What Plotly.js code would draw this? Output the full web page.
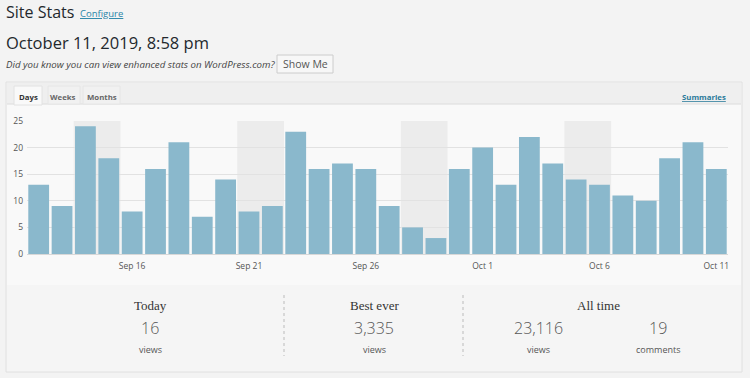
<!DOCTYPE html>
<html>
<head>
<meta charset="utf-8">
<script src="https://cdn.plot.ly/plotly-3.0.1.min.js"></script>
<style>
html,body{margin:0;padding:0;background:#f3f3f3;}
#chart{width:750px;height:378px;}
</style>
</head>
<body>
<div id="chart"></div>
<script>
// ---- data ----
var days = ['Sep 12','Sep 13','Sep 14','Sep 15','Sep 16','Sep 17','Sep 18','Sep 19','Sep 20','Sep 21',
            'Sep 22','Sep 23','Sep 24','Sep 25','Sep 26','Sep 27','Sep 28','Sep 29','Sep 30','Oct 1',
            'Oct 2','Oct 3','Oct 4','Oct 5','Oct 6','Oct 7','Oct 8','Oct 9','Oct 10','Oct 11'];
var isoDates = ['2019-09-12','2019-09-13','2019-09-14','2019-09-15','2019-09-16','2019-09-17','2019-09-18','2019-09-19','2019-09-20','2019-09-21',
                '2019-09-22','2019-09-23','2019-09-24','2019-09-25','2019-09-26','2019-09-27','2019-09-28','2019-09-29','2019-09-30','2019-10-01',
                '2019-10-02','2019-10-03','2019-10-04','2019-10-05','2019-10-06','2019-10-07','2019-10-08','2019-10-09','2019-10-10','2019-10-11'];
var views = [13, 9, 24, 18, 8, 16, 21, 7, 14, 8, 9, 23, 16, 17, 16, 9, 5, 3, 16, 20, 13, 22, 17, 14, 13, 11, 10, 18, 21, 16];
var xTickLabels = ['Sep 16','Sep 21','Sep 26','Oct 1','Oct 6','Oct 11'];
var yTickVals = [0, 5, 10, 15, 20, 25];
var summaryLabels = ['Today', 'Best ever', 'All time'];
var todayViews = '16';
var bestEverViews = '3,335';
var allTimeViews = '23,116';
var allTimeComments = '19';

// ---- helpers (pixel -> paper) ----
var W = 750, H = 378;
function px(x){ return x / W; }
function py(y){ return 1 - y / H; }

var shapes = [];
var ann = [];
function rect(x0, y0, x1, y1, fill, line, lw, layer){
  shapes.push({type:'rect', xref:'paper', yref:'paper', x0:px(x0), x1:px(x1), y0:py(y1), y1:py(y0),
    fillcolor: fill, line:{color: line || 'rgba(0,0,0,0)', width: (lw===undefined?1:lw)}, layer: layer || 'below'});
}
function hline(x0, x1, y, color){
  shapes.push({type:'line', xref:'paper', yref:'paper', x0:px(x0), x1:px(x1), y0:py(y), y1:py(y),
    line:{color:color, width:1}, layer:'below'});
}
function vline(x, y0, y1, color, dash){
  shapes.push({type:'line', xref:'paper', yref:'paper', x0:px(x), x1:px(x), y0:py(y0), y1:py(y1),
    line:{color:color, width:1, dash:dash||'solid'}, layer:'below'});
}
function text(t, x, y, size, color, family, anchor, weight){
  ann.push({text:t, xref:'paper', yref:'paper', x:px(x), y:py(y), showarrow:false,
    xanchor: anchor || 'left', yanchor:'middle',
    font:{size:size, color:color, family:family, weight: weight || 'normal'}});
}

var SANS = '"Open Sans", "Noto Sans", sans-serif';
var SERIF = '"Liberation Serif", "DejaVu Serif", serif';

// ---- page chrome ----
text('Site Stats', 4, 12, 16, '#23282d', SANS);
text('<u>Configure</u>', 78, 13, 9.5, '#2a86a8', SANS);
text('October 11, 2019, 8:58 pm', 4, 42, 16.5, '#23282d', SANS);
text('<i>Did you know you can view enhanced stats on WordPress.com?</i>', 4, 64, 9.7, '#444', SANS);
rect(277, 55, 333, 73, '#f7f7f7', '#cccccc', 1);
text('Show Me', 305, 64, 10.5, '#555', SANS, 'center');

// panel
rect(6, 82, 742, 372, '#f5f5f5', '#e0e0e0', 1);
rect(7, 83, 741, 104, '#efefef', 'rgba(0,0,0,0)', 0);
rect(7, 104, 741, 285, '#f9f9f9', 'rgba(0,0,0,0)', 0);
hline(7, 741, 104, '#dcdcdc');
// tabs
rect(14, 86, 42, 105, '#f9f9f9', '#e2e2e2', 1);
rect(48, 86, 80, 104, '#f1f1f1', '#e6e6e6', 1);
rect(83, 86, 120, 104, '#f1f1f1', '#e6e6e6', 1);
text('<b>Days</b>', 28, 97, 7.8, '#333', SANS, 'center');
text('<b>Weeks</b>', 63, 97, 7.8, '#666', SANS, 'center');
text('<b>Months</b>', 101.5, 97, 7.8, '#666', SANS, 'center');
text('<b><u>Summaries</u></b>', 728, 97, 7.8, '#2a7a9a', SANS, 'right');

// summary section
vline(284, 295, 356, '#bbbbbb', 'dot');
vline(463, 295, 356, '#bbbbbb', 'dot');
text(summaryLabels[0], 150, 305, 13, '#333', SERIF, 'center');
text(summaryLabels[1], 374, 305, 13, '#333', SERIF, 'center');
text(summaryLabels[2], 598, 305, 13, '#333', SERIF, 'center');
text(todayViews, 150, 328, 16, '#555', SANS, 'center', 300);
text(bestEverViews, 374, 328, 16, '#555', SANS, 'center', 300);
text(allTimeViews, 538, 328, 16, '#555', SANS, 'center', 300);
text(allTimeComments, 658, 328, 16, '#555', SANS, 'center', 300);
text('views', 150, 349, 9, '#555', SANS, 'center');
text('views', 374, 349, 9, '#555', SANS, 'center');
text('views', 538, 349, 9, '#555', SANS, 'center');
text('comments', 658, 349, 9, '#555', SANS, 'center');

// weekend bands derived from dates
isoDates.forEach(function(d, i){
  var dow = new Date(d + 'T00:00:00Z').getUTCDay();
  if (dow === 6) {
    shapes.push({type:'rect', xref:'x', yref:'y domain', x0:i-0.5, x1:i+1.5, y0:0, y1:1,
      fillcolor:'#ececec', line:{width:0}, layer:'below'});
  }
});

var trace = {
  type:'bar', x: days, y: views,
  marker:{color:'#8ab8cc', line:{width:0}},
  hoverinfo:'x+y'
};

var layout = {
  width: W, height: H,
  margin:{l:0, r:0, t:0, b:0, pad:0},
  paper_bgcolor:'#f3f3f3',
  plot_bgcolor:'#ffffff',
  showlegend:false,
  bargap:0.11,
  xaxis:{
    domain:[px(27), px(728)],
    type:'category',
    tickmode:'array', tickvals: xTickLabels, ticktext: xTickLabels,
    tickfont:{size:8.5, color:'#555', family:SANS},
    ticklabelstandoff:5,
    showgrid:false, zeroline:false, showline:false, ticks:'', ticklen:0,
    range:[-0.5, days.length - 0.5], fixedrange:true
  },
  yaxis:{
    domain:[py(254), py(121)],
    range:[0, 25],
    tickmode:'array', tickvals: yTickVals,
    tickfont:{size:8.5, color:'#555', family:SANS},
    ticklabelstandoff:3,
    showgrid:true, gridcolor:'#e2e2e2', gridwidth:1,
    zeroline:true, zerolinecolor:'#d8d8d8',
    showline:false, ticks:'', ticklen:0, fixedrange:true
  },
  shapes: shapes,
  annotations: ann
};

Plotly.newPlot('chart', [trace], layout, {displayModeBar:false, staticPlot:true});
</script>
</body>
</html>
